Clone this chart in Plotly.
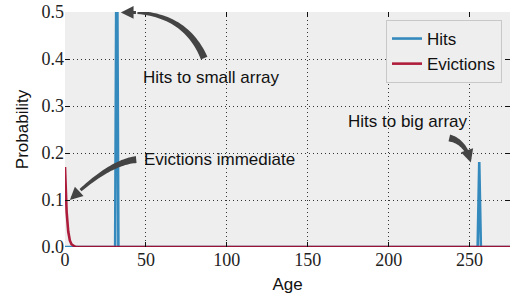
import numpy as np
import plotly.graph_objects as go

# ---------------- data ----------------
hit_ages = [0, 31, 32, 33, 255, 256, 257, 275]
hit_probs = [0.0, 0.0, 0.80, 0.0, 0.0, 0.181, 0.0, 0.0]

evict_ages = [0, 1, 2, 3, 4, 5, 6, 7, 275]
evict_probs = [0.17, 0.075, 0.033, 0.014, 0.006, 0.003, 0.001, 0.0, 0.0]

x_ticks = [0, 50, 100, 150, 200, 250]
y_ticks = [0.0, 0.1, 0.2, 0.3, 0.4, 0.5]
y_tick_text = ["0.0", "0.1", "0.2", "0.3", "0.4", "0.5"]

# annotations: (text, text_x, text_y, anchor, tail, ctrl, tip)
notes = [
    ("Hits to small array", 90.5, 0.360, "center", (86.0, 0.402), (73.0, 0.507), (34.5, 0.499)),
    ("Evictions immediate", 47.5, 0.186, "left", (44.0, 0.186), (27.0, 0.180), (3.0, 0.100)),
    ("Hits to big array", 212.0, 0.266, "center", (237.5, 0.232), (247.5, 0.224), (250.8, 0.180)),
]

# ---------------- layout geometry ----------------
W, H = 510, 295
ml, mr, mt, mb = 65, 0, 12, 48
xr = [0, 275]
yr = [0, 0.5]
pw, ph = W - ml - mr, H - mt - mb


def to_px(x, y):
    return ((x - xr[0]) / (xr[1] - xr[0]) * pw, (y - yr[0]) / (yr[1] - yr[0]) * ph)


def to_data(px, py):
    return (xr[0] + px / pw * (xr[1] - xr[0]), yr[0] + py / ph * (yr[1] - yr[0]))


def bez(p0, c, p2, t):
    return ((1 - t) ** 2 * p0[0] + 2 * (1 - t) * t * c[0] + t ** 2 * p2[0],
            (1 - t) ** 2 * p0[1] + 2 * (1 - t) * t * c[1] + t ** 2 * p2[1])


def fancy_body(tail, ctrl, tip, w0=7.0, w1=3.0, tstop=0.86, n=30):
    p0, c, p2 = to_px(*tail), to_px(*ctrl), to_px(*tip)
    ts = np.linspace(0, tstop, n)
    pts = [bez(p0, c, p2, t) for t in ts]
    left, right = [], []
    for i, t in enumerate(ts):
        dx = 2 * (1 - t) * (c[0] - p0[0]) + 2 * t * (p2[0] - c[0])
        dy = 2 * (1 - t) * (c[1] - p0[1]) + 2 * t * (p2[1] - c[1])
        L = (dx * dx + dy * dy) ** 0.5
        nx, ny = -dy / L, dx / L
        w = (w0 + (w1 - w0) * t / tstop) / 2
        left.append((pts[i][0] + nx * w, pts[i][1] + ny * w))
        right.append((pts[i][0] - nx * w, pts[i][1] - ny * w))
    poly = left + right[::-1]
    dpts = [to_data(*p) for p in poly]
    path = "M " + " L ".join(f"{x:.4f},{y:.5f}" for x, y in dpts) + " Z"
    end = to_data(*pts[-1])
    return path, end


SANS = "Liberation Sans, Arial, Helvetica, sans-serif"
SERIF = "Liberation Serif"

fig = go.Figure()
fig.add_trace(go.Scatter(x=hit_ages, y=hit_probs, mode="lines", name="Hits",
                         line=dict(color="#348ABD", width=2.6)))
fig.add_trace(go.Scatter(x=evict_ages, y=evict_probs, mode="lines", name="Evictions",
                         line=dict(color="#A60628", width=2.6), opacity=0.9))
# invisible trace so the mirrored (top/right) tick axes are drawn
fig.add_trace(go.Scatter(x=hit_ages, y=hit_probs, xaxis="x2", yaxis="y2", mode="lines",
                         line=dict(width=0), opacity=0, showlegend=False, hoverinfo="skip"))

shapes = []
annotations = []
for text, tx, ty, anchor, tail, ctrl, tip in notes:
    path, end = fancy_body(tail, ctrl, tip)
    shapes.append(dict(type="path", path=path, xref="x", yref="y",
                       fillcolor="#444444", line=dict(width=0), layer="above"))
    annotations.append(dict(x=tip[0], y=tip[1], ax=end[0], ay=end[1], axref="x", ayref="y",
                            xref="x", yref="y", text="", showarrow=True,
                            arrowhead=2, arrowsize=0.85, arrowwidth=3, arrowcolor="#444444"))
    annotations.append(dict(x=tx, y=ty, xref="x", yref="y", text=text, showarrow=False,
                            xanchor=anchor, yanchor="middle",
                            font=dict(family=SANS, size=17, color="#111")))

tick_style = dict(ticks="inside", ticklen=5, tickcolor="#111", tickwidth=1.2)

axis_common = dict(
    showgrid=True, gridcolor="#333", griddash="1px,3px", gridwidth=1,
    zeroline=False, showline=False, automargin=False, ticklabeloverflow="allow",
    tickfont=dict(family=SERIF, size=18, color="#222"),
    **tick_style,
)

fig.update_layout(
    width=W, height=H,
    margin=dict(l=ml, r=mr, t=mt, b=mb),
    paper_bgcolor="white", plot_bgcolor="#eeeeee",
    xaxis=dict(range=xr, tickvals=x_ticks,
               title=dict(text="Age", standoff=9, font=dict(family=SANS, size=17, color="#111")),
               **axis_common),
    yaxis=dict(range=yr, tickvals=y_ticks, ticktext=y_tick_text,
               title=dict(text="Probability", standoff=8, font=dict(family=SANS, size=17, color="#111")),
               **axis_common),
    # mirrored inside ticks on top and right
    xaxis2=dict(overlaying="x", side="top", range=xr, tickvals=x_ticks,
                showticklabels=False, showgrid=False, zeroline=False, automargin=False,
                **tick_style),
    yaxis2=dict(overlaying="y", side="right", range=yr, tickvals=y_ticks,
                showticklabels=False, showgrid=False, zeroline=False, automargin=False,
                **tick_style),
    legend=dict(x=0.982, y=0.966, xanchor="right", yanchor="top",
                bgcolor="#eeeeee", bordercolor="#c8c8c8", borderwidth=1,
                font=dict(family=SANS, size=17, color="#111")),
    shapes=shapes, annotations=annotations,
    showlegend=True,
)

fig.write_html("out.html", config={"displayModeBar": False},
               post_script="document.body.style.margin='0';")
